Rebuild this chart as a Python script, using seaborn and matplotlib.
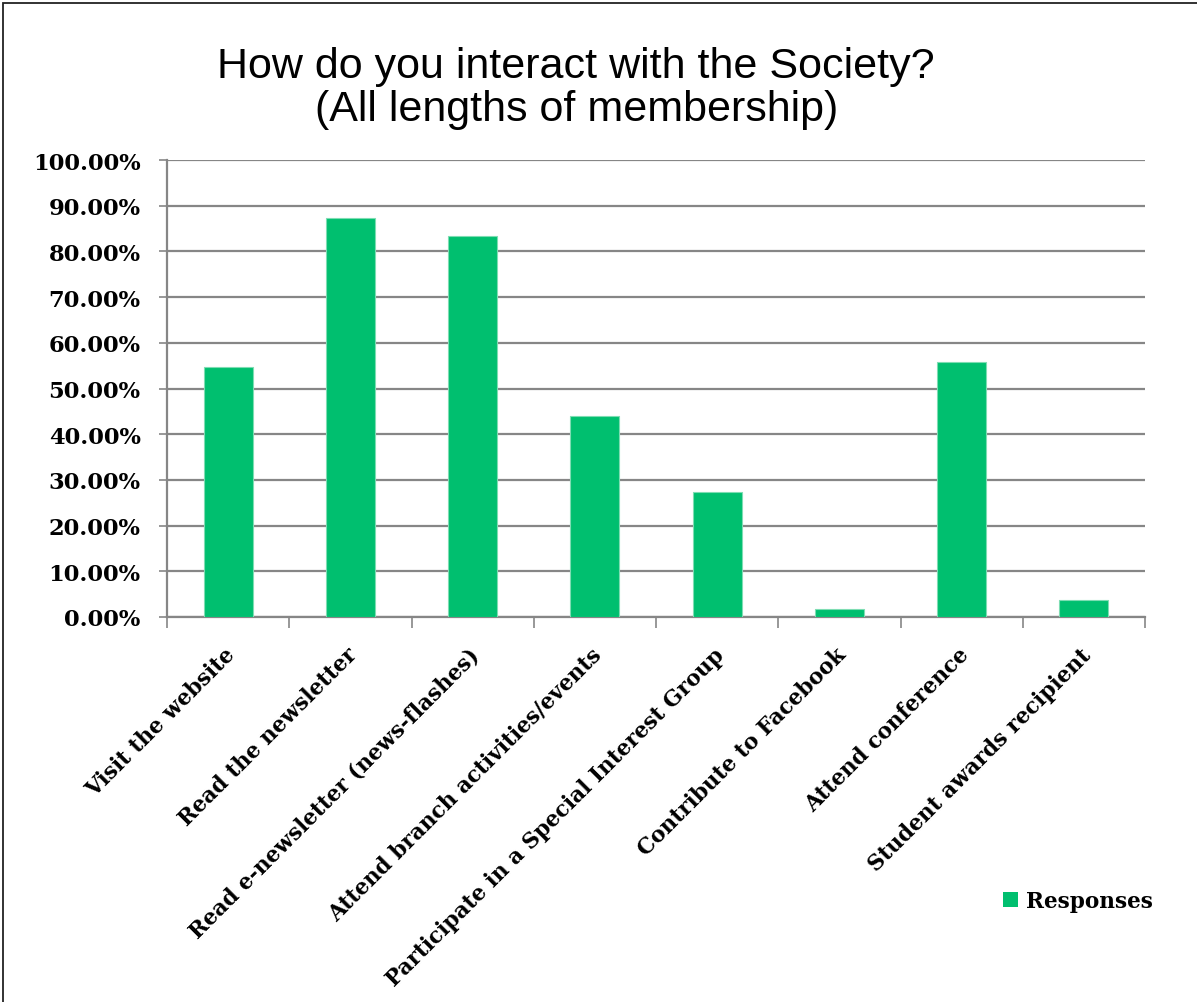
import matplotlib
matplotlib.use("Agg")
import matplotlib.pyplot as plt
from matplotlib.ticker import FuncFormatter, FixedLocator, MultipleLocator
from matplotlib.patches import Rectangle, Patch
from matplotlib.font_manager import FontProperties
from matplotlib.transforms import ScaledTranslation
import seaborn as sns
import pandas as pd

# Survey results: share of members per activity
activities = [
    "Visit the website",
    "Read the newsletter",
    "Read e-newsletter (news-flashes)",
    "Attend branch activities/events",
    "Participate in a Special Interest Group",
    "Contribute to Facebook",
    "Attend conference",
    "Student awards recipient",
]
responses = [0.548, 0.872, 0.833, 0.440, 0.273, 0.018, 0.558, 0.037]
series_name = "Responses"

title_lines = ["How do you interact with the Society?", "(All lengths of membership)"]

BAR_GREEN = "#00BF6F"
GRID_GRAY = "#868686"

sns.set_theme(style="white")
plt.rcParams["font.family"] = ["DejaVu Sans"]
plt.rcParams["text.color"] = "black"
plt.rcParams["xtick.color"] = "black"
plt.rcParams["ytick.color"] = "black"

df = pd.DataFrame({"activity": activities, "share": responses})

W, H = 1197, 1003
fig = plt.figure(figsize=(W / 100, H / 100), dpi=100)
ax = fig.add_axes([167 / W, 1 - 618 / H, (1145 - 167) / W, (618 - 161) / H])

sns.barplot(data=df, x="activity", y="share", color=BAR_GREEN, width=0.4,
            saturation=1, edgecolor="#7EDDB3", linewidth=0.8, ax=ax, zorder=3)

ax.set_ylim(0, 1.0)
ax.set_xlim(-0.5, len(activities) - 0.5)
ax.yaxis.set_major_locator(MultipleLocator(0.1))
ax.yaxis.set_major_formatter(FuncFormatter(lambda v, _: f"{v * 100:.2f}%"))
ax.grid(axis="y", color=GRID_GRAY, linewidth=1.6, zorder=0)
ax.set_axisbelow(True)

for side in ("top", "right"):
    ax.spines[side].set_visible(False)
for side in ("left", "bottom"):
    ax.spines[side].set_color(GRID_GRAY)
    ax.spines[side].set_linewidth(1.6)

ylabel_props = FontProperties(family="DejaVu Serif", weight="bold", size=16.3)
xlabel_props = FontProperties(family="DejaVu Serif", weight="bold", size=15.6)

ax.tick_params(axis="y", which="major", length=6, width=1.2, color=GRID_GRAY,
               labelcolor="black", direction="out", pad=13, left=True)
for lbl in ax.get_yticklabels():
    lbl.set_fontproperties(ylabel_props)

# category labels centred under bars, ticks on the category boundaries
ax.xaxis.set_minor_locator(FixedLocator([i - 0.5 for i in range(len(activities) + 1)]))
ax.tick_params(axis="x", which="major", length=0, pad=14, labelcolor="black")
ax.tick_params(axis="x", which="minor", length=8, width=1.2, color=GRID_GRAY,
               direction="out", bottom=True)
ax.set_xticks(range(len(activities)))
ax.set_xticklabels(activities, rotation=45, ha="right", rotation_mode="anchor",
                   fontproperties=xlabel_props, color="black")
shift = ScaledTranslation(-4 / 100, -7 / 100, fig.dpi_scale_trans)
for lbl in ax.get_xticklabels():
    lbl.set_transform(lbl.get_transform() + shift)
ax.set_xlabel("")
ax.set_ylabel("")

fig.text(576 / W, 1 - 78 / H, title_lines[0], ha="center", va="baseline",
         family="Liberation Sans", fontsize=31, color="black")
fig.text(577 / W, 1 - 121 / H, title_lines[1], ha="center", va="baseline",
         family="Liberation Sans", fontsize=31, color="black")

handle = Patch(facecolor=BAR_GREEN, edgecolor="none")
fig.legend([handle], [series_name], loc="center left",
           bbox_to_anchor=(983 / W, 1 - 902 / H), frameon=False,
           handlelength=0.7, handleheight=0.7, handletextpad=0.4,
           prop=xlabel_props)

# chart frame
fig.patches.append(Rectangle((3 / W, -0.1), 1.2, 1 - 3.5 / H + 0.1,
                             transform=fig.transFigure, fill=False,
                             edgecolor="#222222", linewidth=1.3))

fig.savefig("out.png", dpi=100)
